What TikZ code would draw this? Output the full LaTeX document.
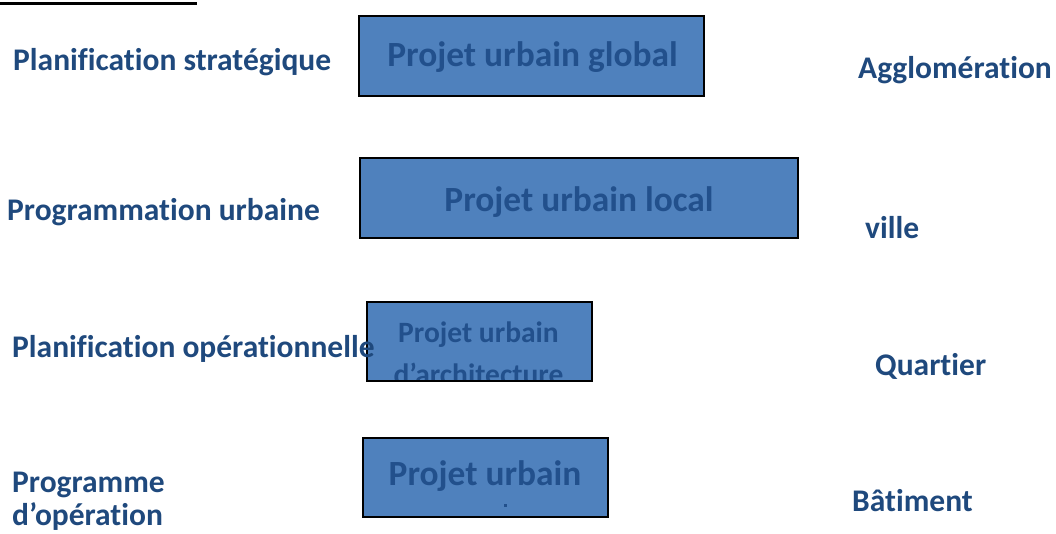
\documentclass[tikz,border=0pt]{standalone}
\usepackage{fontspec}
\setmainfont{Carlito}[Ligatures=NoCommon]
\definecolor{boxfill}{HTML}{4F81BD}
\definecolor{lbl}{HTML}{1F497D}
\definecolor{boxtxt}{HTML}{22508C}
\begin{document}
\begin{tikzpicture}[x=1pt,y=-1pt,
  boxrect/.style={fill=boxfill,draw=black,line width=1.6pt},
  lab/.style={anchor=base west,inner sep=0pt,text=lbl,font=\fontsize{31.5}{38}\selectfont\bfseries},
  btxt/.style={anchor=base,inner sep=0pt,text=boxtxt,font=\fontsize{35.4}{42}\selectfont\bfseries},
  btxtsmall/.style={anchor=base,inner sep=0pt,text=boxtxt,font=\fontsize{29.5}{36}\selectfont\bfseries}]
\useasboundingbox (0,0) rectangle (1056,534);
% top underline
\coordinate (ulA) at (0,3.4);
\coordinate (ulB) at (197,3.4);
\draw[line width=2.4pt] (ulA) -- (ulB);
% boxes
\node[boxrect,minimum width=345pt,minimum height=80pt,inner sep=0pt] (b1) at (531.5,56) {};
\node[boxrect,minimum width=438pt,minimum height=80pt,inner sep=0pt] (b2) at (579,198) {};
\node[boxrect,minimum width=225pt,minimum height=79pt,inner sep=0pt] (b3) at (479.5,341.5) {};
\node[boxrect,minimum width=245pt,minimum height=79pt,inner sep=0pt] (b4) at (485.5,477.5) {};
% box texts
\node[btxt] (t1) at (532.5,67) {Projet urbain global};
\node[btxt] (t2) at (579,212) {Projet urbain local};
\node[btxtsmall] (t3a) at (478.5,342) {Projet urbain};
\begin{scope}
  \clip (368,303) rectangle (591.5,379.5);
  \node[btxtsmall] (t3b) at (478.5,384) {d’architecture};
\end{scope}
\node[btxt] (t4) at (485,485) {Projet urbain};
\node[fill=boxtxt,minimum size=3pt,inner sep=0pt] (t4dot) at (505,505) {};
% labels
\node[lab] (l1) at (13,71) {Planification stratégique};
\node[lab] (r1) at (858,79) {Agglomération};
\node[lab] (l2) at (7,221) {Programmation urbaine};
\node[lab] (r2) at (865,239) {ville};
\node[lab] (l3) at (12,357) {Planification opérationnelle};
\node[lab] (r3) at (875,375) {Quartier};
\node[lab] (l4a) at (12,492) {Programme};
\node[lab] (l4b) at (12,525) {d’opération};
\node[lab] (r4) at (852,511) {Bâtiment};
\end{tikzpicture}
\end{document}
